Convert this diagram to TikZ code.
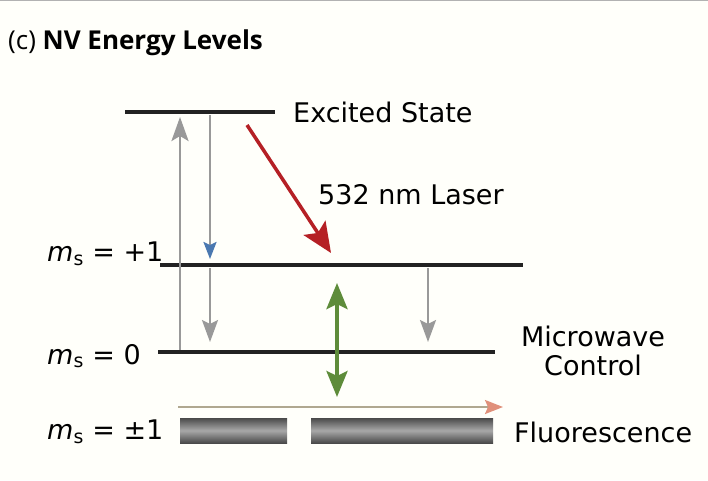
\documentclass[tikz,border=0pt]{standalone}
\usepackage{fontspec}
\setmainfont{DejaVu Sans}
\newfontfamily\titlefont{Open Sans}
\usetikzlibrary{arrows.meta}

\definecolor{levelblack}{HTML}{222222}
\definecolor{arrowgray}{HTML}{999999}
\definecolor{headblue}{HTML}{4A78B0}
\definecolor{laserred}{HTML}{B52025}
\definecolor{mwgreen}{HTML}{5E8C3A}
\definecolor{fluotan}{HTML}{B0A890}
\definecolor{fluosalmon}{HTML}{E0907A}
\definecolor{bardark}{HTML}{4A4A4A}
\definecolor{barlight}{HTML}{A8A8A8}

\newcommand{\msub}{\textit{m}\textsubscript{s}}

\begin{document}
\begin{tikzpicture}[x=1pt, y=-1pt, font=\fontsize{27}{32}\selectfont,
  level/.style={draw=levelblack, line width=3.5pt},
  label/.style={inner sep=0pt},
  decay/.style={draw=arrowgray, line width=2.3pt, -{Stealth[length=22pt, width=16pt, inset=4pt]}},
  fluobar/.style={top color=bardark, bottom color=bardark, middle color=barlight}]
  \useasboundingbox (0,0) rectangle (708,480);
  \fill[white!98!yellow] (0,0) rectangle (708,480);
  \draw[gray!60, line width=2pt] (0,0) -- (708,0);

  % title
  \node[anchor=base west, inner sep=0pt, font=\titlefont\fontsize{26}{31}\selectfont] (title) at (8,49) {(c) \textbf{NV Energy Levels}};

  % levels
  \coordinate (excL) at (125,112);
  \coordinate (excR) at (275,112);
  \coordinate (plusL) at (160,265);
  \coordinate (plusR) at (523,265);
  \coordinate (zeroL) at (158,352);
  \coordinate (zeroR) at (495,352);
  \draw[level] (excL) -- (excR);
  \draw[level] (plusL) -- (plusR);
  \draw[level] (zeroL) -- (zeroR);

  % labels
  \node[label, anchor=west] (excited) at (293,112) {Excited State};
  \node[label, anchor=west] (laser) at (318,195) {532 nm Laser};
  \node[label, anchor=west] (plus) at (47,254) {\msub{} = +1};
  \node[label, anchor=west] (zero) at (47,356) {\msub{} = 0};
  \node[label, anchor=west] (pm) at (47,432) {\msub{} = ±1};
  \node[label, align=center] (mw) at (593,351) {Microwave\\[-3pt]Control};
  \node[label, anchor=west] (fluo) at (514,432) {Fluorescence};

  % pumping and decay
  \coordinate (pumpA) at (180,350);
  \coordinate (pumpB) at (180,117);
  \draw[draw=arrowgray, line width=2.8pt, -{Stealth[length=24pt, width=17pt, inset=5pt]}] (pumpA) -- (pumpB);
  \coordinate (relaxA) at (210,115);
  \coordinate (relaxB) at (210,259);
  \draw[draw=arrowgray, line width=2.3pt, -{Stealth[length=17pt, width=13pt, inset=3pt, color=headblue]}] (relaxA) -- (relaxB);
  \coordinate (decayA) at (210,268);
  \coordinate (decayB) at (210,342);
  \draw[decay] (decayA) -- (decayB);
  \coordinate (decayC) at (428,268);
  \coordinate (decayD) at (428,342);
  \draw[decay] (decayC) -- (decayD);

  % laser
  \coordinate (laserA) at (247,125);
  \coordinate (laserB) at (331,253);
  \draw[draw=laserred, line width=3.5pt, -{Stealth[length=30pt, width=26pt, inset=6pt]}] (laserA) -- (laserB);

  % microwave
  \coordinate (mwA) at (337,283);
  \coordinate (mwB) at (337,397);
  \draw[draw=mwgreen, line width=4pt, {Stealth[length=26pt, width=21pt, inset=5pt]}-{Stealth[length=26pt, width=21pt, inset=5pt]}] (mwA) -- (mwB);

  % fluorescence
  \coordinate (fluoA) at (178,407);
  \coordinate (fluoB) at (503,407);
  \draw[draw=fluotan, line width=2pt, -{Stealth[length=18pt, width=14pt, inset=3pt, color=fluosalmon]}] (fluoA) -- (fluoB);
  \shade[fluobar] (180,418) rectangle (287,443);
  \shade[fluobar] (311,418) rectangle (493,443);
\end{tikzpicture}
\end{document}
